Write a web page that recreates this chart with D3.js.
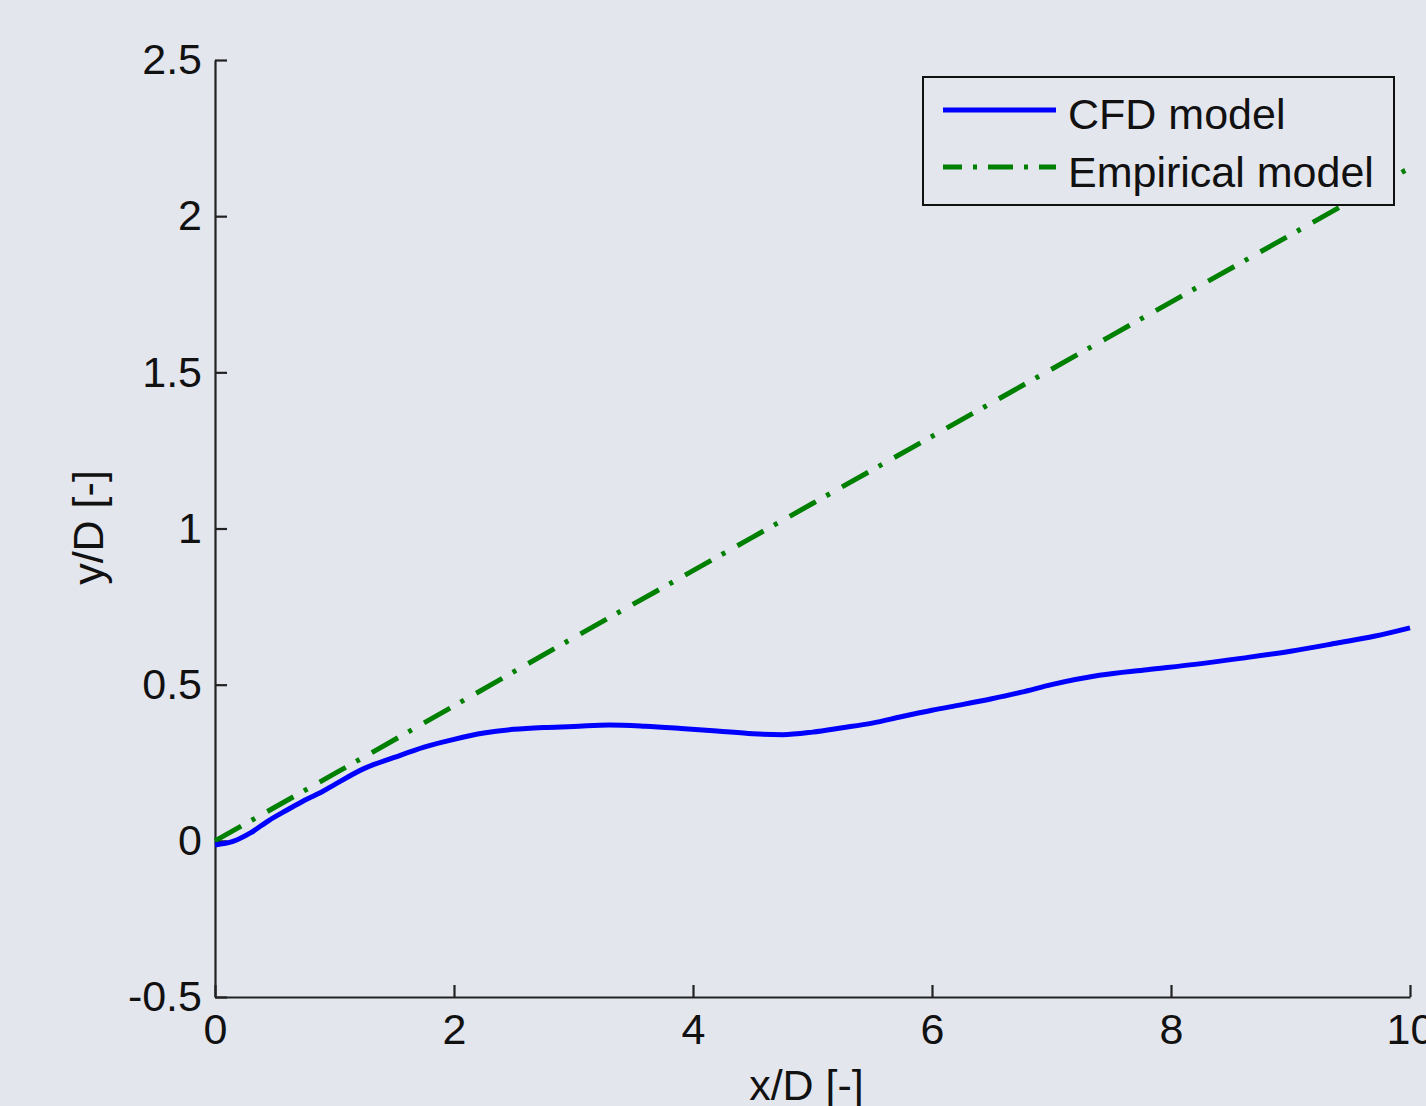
<!DOCTYPE html>
<html>
<head>
<meta charset="utf-8">
<script src="https://cdn.jsdelivr.net/npm/d3@7"></script>
<style>
  body { margin: 0; background: #e4e6ee; }
  svg text { font-family: "Liberation Sans", Arial, Helvetica, sans-serif; fill: #111; }
</style>
</head>
<body>
<div id="chart"></div>
<script>
// CFD model trajectory (x/D, y/D)
var cfdX = [0, 0.15, 0.3, 0.45, 0.6, 0.75, 0.9, 1.0, 1.25, 1.5, 1.75, 2.0, 2.25, 2.5, 2.75, 3.0, 3.3, 3.6, 3.9, 4.2, 4.5, 4.75, 5.0, 5.25, 5.5, 5.75, 6.0, 6.25, 6.5, 6.75, 7.0, 7.4, 7.8, 8.2, 8.6, 9.0, 9.4, 9.7, 10];
var cfdY = [-0.013, -0.002, 0.026, 0.065, 0.098, 0.13, 0.158, 0.18, 0.232, 0.267, 0.300, 0.325, 0.345, 0.357, 0.363, 0.366, 0.371, 0.367, 0.36, 0.352, 0.343, 0.340, 0.348, 0.362, 0.377, 0.398, 0.418, 0.436, 0.455, 0.476, 0.500, 0.53, 0.548, 0.565, 0.585, 0.607, 0.634, 0.655, 0.682];

// Empirical model trajectory
var empX = [0, 1, 2, 3, 4, 5, 6, 7, 8, 9, 10];
var empY = [0.0, 0.215, 0.432, 0.65, 0.865, 1.08, 1.295, 1.51, 1.725, 1.94, 2.155];

var xTicks = [0, 2, 4, 6, 8, 10];
var yTicks = [-0.5, 0, 0.5, 1, 1.5, 2, 2.5];
var seriesNames = ["CFD model", "Empirical model"];

// dimensions and margins
var margin = {top: 60, right: 16, bottom: 109, left: 215},
    width = 1426 - margin.left - margin.right,
    height = 1106 - margin.top - margin.bottom;

var root = d3.select("#chart")
  .append("svg")
    .attr("width", 1426)
    .attr("height", 1106);

root.append("rect")
  .attr("width", 1426)
  .attr("height", 1106)
  .attr("fill", "#e4e6ee");

var svg = root.append("g")
  .attr("transform", "translate(" + margin.left + "," + margin.top + ")");

var x = d3.scaleLinear().domain([0, 10]).range([0, width]);
var y = d3.scaleLinear().domain([-0.5, 2.5]).range([height, 0]);

// axes, ticks pointing inward
var xAxis = svg.append("g")
  .attr("transform", "translate(0," + height + ")")
  .call(d3.axisBottom(x).tickValues(xTicks).tickSize(-12).tickSizeOuter(0)
    .tickPadding(16).tickFormat(function(d) { return String(d); }));

var yAxis = svg.append("g")
  .call(d3.axisLeft(y).tickValues(yTicks).tickSize(-12).tickSizeOuter(0)
    .tickPadding(13).tickFormat(function(d) { return String(d); }));

[xAxis, yAxis].forEach(function(a) {
  a.selectAll("path, line").attr("stroke", "#222").attr("stroke-width", 2.2);
  a.selectAll("text").style("font-size", "43px").attr("fill", "#111");
});

// lines
var cfd = cfdX.map(function(v, i) { return [v, cfdY[i]]; });
var emp = empX.map(function(v, i) { return [v, empY[i]]; });

var line = d3.line()
  .x(function(d) { return x(d[0]); })
  .y(function(d) { return y(d[1]); })
  .curve(d3.curveMonotoneX);

svg.append("path")
  .datum(emp)
  .attr("fill", "none")
  .attr("stroke", "#008000")
  .attr("stroke-width", 5)
  .attr("stroke-dasharray", "30,12,4,14")
  .attr("d", line);

svg.append("path")
  .datum(cfd)
  .attr("fill", "none")
  .attr("stroke", "#0000ff")
  .attr("stroke-width", 5)
  .attr("d", line);

// axis labels
svg.append("text")
  .attr("text-anchor", "middle")
  .attr("x", width / 2 - 6)
  .attr("y", height + 103)
  .style("font-size", "43px")
  .text("x/D [-]");

svg.append("text")
  .attr("text-anchor", "middle")
  .attr("transform", "rotate(-90)")
  .attr("x", -height / 2 + 1)
  .attr("y", -112)
  .style("font-size", "43px")
  .text("y/D [-]");

// legend
var legend = svg.append("g")
  .attr("transform", "translate(" + (width - 487) + ",17)");

legend.append("rect")
  .attr("width", 471)
  .attr("height", 128)
  .attr("fill", "#e4e6ee")
  .attr("stroke", "#111")
  .attr("stroke-width", 2);

legend.append("line")
  .attr("x1", 20).attr("x2", 133)
  .attr("y1", 33).attr("y2", 33)
  .attr("stroke", "#0000ff")
  .attr("stroke-width", 5);

legend.append("line")
  .attr("x1", 20).attr("x2", 133)
  .attr("y1", 90).attr("y2", 90)
  .attr("stroke", "#008000")
  .attr("stroke-width", 5)
  .attr("stroke-dasharray", "25,11,4,11")
  .attr("stroke-dashoffset", 6);

legend.selectAll("text.lab")
  .data(seriesNames)
  .enter()
  .append("text")
    .attr("class", "lab")
    .attr("x", 145)
    .attr("y", function(d, i) { return 52 + i * 58; })
    .style("font-size", "43px")
    .text(function(d) { return d; });
</script>
</body>
</html>
